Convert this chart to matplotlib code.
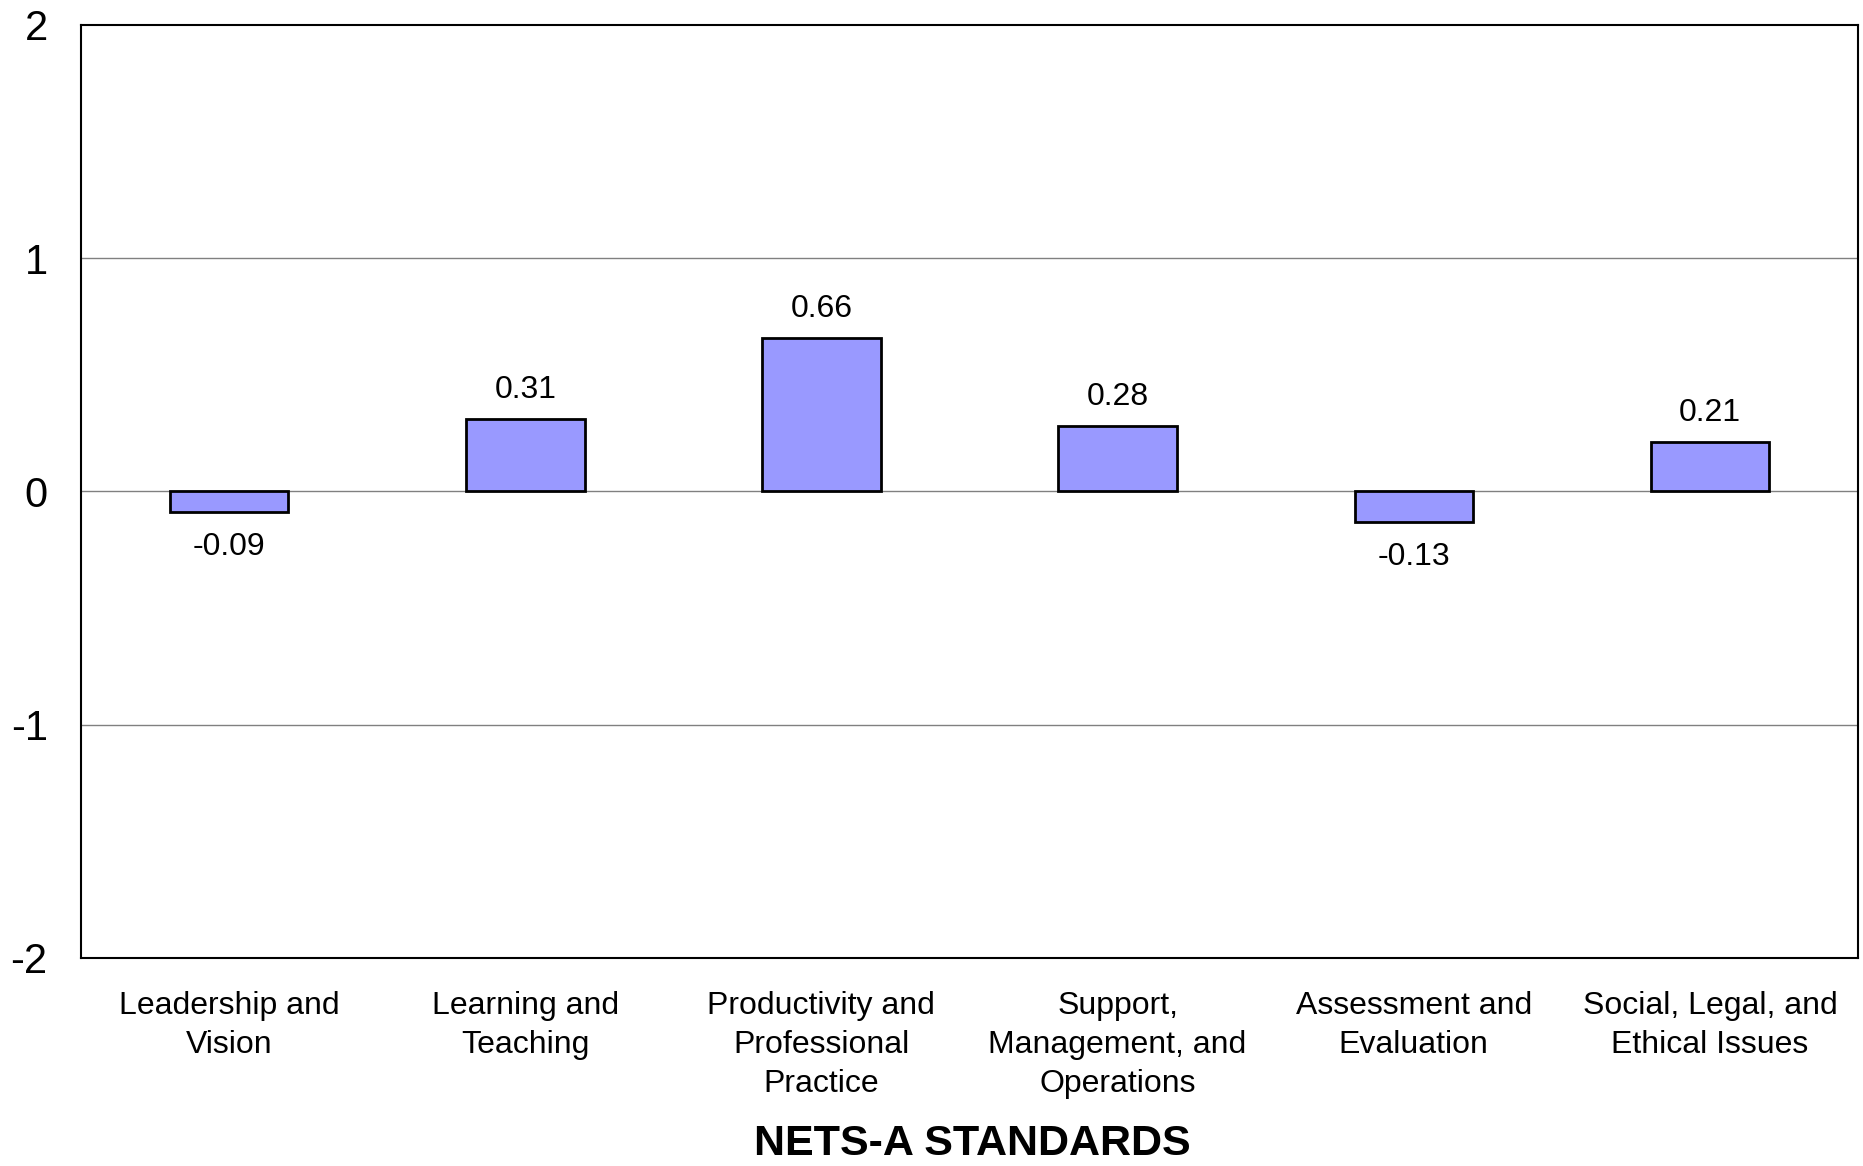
import numpy as np
import matplotlib
matplotlib.use("Agg")
import matplotlib.pyplot as plt

plt.rcParams['font.family'] = ['Liberation Sans', 'DejaVu Sans']

# data
categories = ["Leadership and\nVision", "Learning and\nTeaching",
              "Productivity and\nProfessional\nPractice",
              "Support,\nManagement, and\nOperations",
              "Assessment and\nEvaluation", "Social, Legal, and\nEthical Issues"]
values = [-0.09, 0.31, 0.66, 0.28, -0.13, 0.21]
value_labels = ["-0.09", "0.31", "0.66", "0.28", "-0.13", "0.21"]
yticks = [-2, -1, 0, 1, 2]

fig = plt.figure(figsize=(18.63, 11.66), dpi=100)
ax = fig.add_axes([0.0435, 0.1784, 0.9538, 0.8002])

x = np.arange(len(categories))
for yv in [-1, 0, 1]:
    ax.axhline(yv, color='#808080', lw=1.0, zorder=1)
ax.bar(x, values, width=0.4, color='#9999FF', edgecolor='black', linewidth=2, zorder=2)

for xi, v, lab in zip(x, values, value_labels):
    if v >= 0:
        ax.text(xi, v + 0.06, lab, ha='center', va='bottom', fontsize=23)
    else:
        ax.text(xi, v - 0.085, lab, ha='center', va='top', fontsize=23)

ax.set_xlim(-0.5, 5.5)
ax.set_ylim(-2, 2)
ax.set_yticks(yticks)
ax.set_yticklabels([str(t) for t in yticks], fontsize=30)
ax.set_xticks(x)
ax.set_xticklabels(categories, fontsize=23, linespacing=1.38)
ax.tick_params(axis='both', length=0)
ax.tick_params(axis='y', pad=24)
ax.tick_params(axis='x', pad=24)
for s in ax.spines.values():
    s.set_linewidth(1.5)

fig.text(0.522, 0.0095, "NETS-A STANDARDS", ha='center', va='baseline',
         fontsize=31, fontweight='bold')

fig.savefig("out.png", dpi=100)
